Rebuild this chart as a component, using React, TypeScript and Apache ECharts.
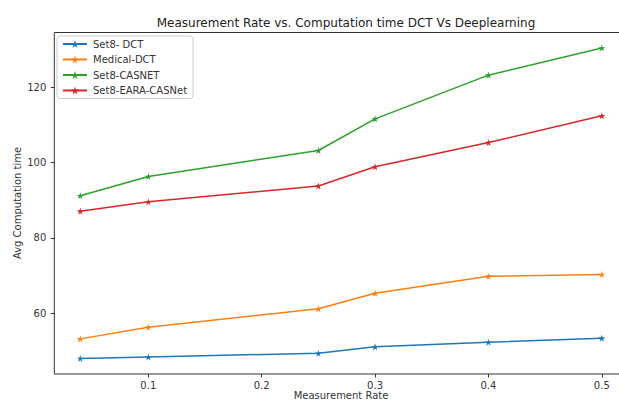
import React, { useEffect, useRef } from "react";
import * as echarts from "echarts";

const rates = [0.04, 0.1, 0.25, 0.3, 0.4, 0.5];
const set8Dct = [48.0, 48.4, 49.4, 51.1, 52.3, 53.4];
const medicalDct = [53.2, 56.3, 61.2, 65.3, 69.8, 70.3];
const set8Casnet = [91.2, 96.3, 103.2, 111.6, 123.2, 130.4];
const set8EaraCasnet = [87.1, 89.6, 93.8, 98.9, 105.3, 112.4];
const xTicks = [0.1, 0.2, 0.3, 0.4, 0.5];
const yTicks = [60, 80, 100, 120];

const seriesNames = ["Set8- DCT", "Medical-DCT", "Set8-CASNET", "Set8-EARA-CASNet"];
const seriesValues = [set8Dct, medicalDct, set8Casnet, set8EaraCasnet];
const colors = ["#1f77b4", "#ff7f0e", "#2ca02c", "#d62728"];

const STAR =
  "path://M0,-1L0.2245,-0.309L0.951,-0.309L0.363,0.118L0.588,0.809L0,0.382L-0.588,0.809L-0.363,0.118L-0.951,-0.309L-0.2245,-0.309Z";

const FONT = "DejaVu Sans";

export default function App() {
  const ref = useRef<HTMLDivElement>(null);
  useEffect(() => {
    if (!ref.current) return;
    const chart = echarts.init(ref.current, null, { renderer: "svg" });
    chart.setOption({
      animation: false,
      backgroundColor: "#fff",
      textStyle: { fontFamily: FONT },
      title: {
        text: "Measurement Rate vs. Computation time DCT Vs Deeplearning",
        left: 341,
        textAlign: "center",
        top: 12,
        textStyle: { fontFamily: FONT, fontSize: 12, fontWeight: "normal", color: "#222" },
      },
      legend: {
        orient: "vertical",
        left: 57,
        top: 36,
        data: seriesNames,
        itemWidth: 24,
        itemHeight: 10,
        itemGap: 5.5,
        padding: [3, 6, 3, 5],
        borderColor: "#ccc",
        borderWidth: 1,
        borderRadius: 3,
        backgroundColor: "#fff",
        textStyle: { fontFamily: FONT, fontSize: 10, color: "#333", padding: [0, 0, 0, 1] },
      },
      graphic: [
        {
          type: "text",
          x: 17,
          y: 203,
          rotation: Math.PI / 2,
          style: {
            text: "Avg Computation time",
            fontFamily: FONT,
            fontSize: 10,
            fill: "#333",
            align: "center",
            verticalAlign: "middle",
          },
        },
        {
          type: "text",
          x: 341,
          y: 395,
          style: {
            text: "Measurement Rate",
            fontFamily: FONT,
            fontSize: 10,
            fill: "#333",
            align: "center",
            verticalAlign: "middle",
          },
        },
      ],
      grid: {
        left: 54.3,
        top: 32.5,
        bottom: 29,
        right: -8.9,
        outerBoundsMode: "none",
        containLabel: false,
        show: true,
        borderColor: "#333",
        borderWidth: 1,
        backgroundColor: "transparent",
      },
      xAxis: {
        type: "value",
        min: 0.0171,
        max: 0.523,
        splitLine: { show: false },
        axisLine: { show: false },
        axisTick: { show: true, length: 3.5, lineStyle: { color: "#333" }, customValues: xTicks },
        axisLabel: {
          customValues: xTicks,
          margin: 6,
          fontFamily: FONT,
          fontSize: 10,
          color: "#333",
          formatter: (v: number) => v.toFixed(1),
        },
      },
      yAxis: {
        type: "value",
        min: 43.88,
        max: 134.52,
        splitLine: { show: false },
        axisLine: { show: false },
        axisTick: { show: true, length: 3.5, lineStyle: { color: "#333" }, customValues: yTicks },
        axisLabel: {
          customValues: yTicks,
          margin: 8,
          fontFamily: FONT,
          fontSize: 10,
          color: "#333",
        },
      },
      series: seriesNames.map((name, i) => ({
        name,
        type: "line",
        data: rates.map((r, j) => [r, seriesValues[i][j]]),
        symbol: STAR,
        symbolSize: 7,
        showSymbol: true,
        lineStyle: { color: colors[i], width: 1.5 },
        itemStyle: { color: colors[i] },
        emphasis: { disabled: true },
      })),
    });
    return () => chart.dispose();
  }, []);
  return (
    <div
      ref={ref}
      style={{ position: "absolute", left: 0, top: 0, width: 619, height: 403, overflow: "hidden" }}
    />
  );
}
